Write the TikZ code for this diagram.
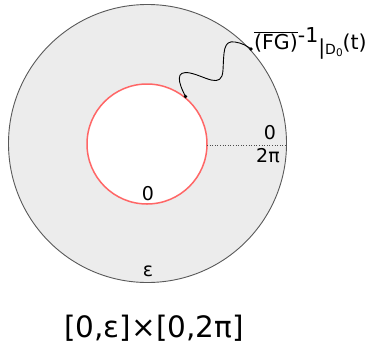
\documentclass[tikz,border=0pt]{standalone}
\usepackage{fontspec}
\setmainfont{DejaVu Sans}
\begin{document}
\begin{tikzpicture}[x=1pt,y=-1pt,
  lbl/.style={font=\fontsize{19}{21}\selectfont, inner sep=0pt},
  dotpt/.style={circle, fill=black, inner sep=0pt, minimum size=3.6pt}]
\useasboundingbox (0,0) rectangle (369,354);
\coordinate (c) at (147.5,143.5);
\fill[gray!15!white, draw=black!65, line width=0.9pt] (c) circle[radius=139pt];
\fill[white, draw=red!60!white, line width=1.5pt] (147,144) circle[radius=60pt];
\coordinate (d1) at (207,145);
\coordinate (d2) at (286.5,145);
\draw[dotted, line width=0.6pt, black!70] (d1) -- (d2);
\node[lbl] (z1) at (270,133) {0};
\node[lbl] (tp) at (268,156) {2π};
\node[lbl] (z2) at (148,194) {0};
\node[lbl] (ep) at (148,271) {ε};
\node[dotpt] (p) at (185.5,96.5) {};
\node[dotpt] (q) at (251,49) {};
\draw[line width=0.9pt] (p.center) .. controls (178,82) and (175,70) .. (190,73)
  .. controls (205,76) and (222,90) .. (223,70)
  .. controls (224,52) and (223,40) .. (235,42)
  .. controls (242,43) and (247,46) .. (q.center);
\node[font=\fontsize{20.5}{22}\selectfont, inner sep=0pt, anchor=base west] (fg) at (254,49) {$\overline{\hbox{(FG)}}$\raisebox{0.55ex}{-1}\raisebox{-0.45ex}{|\fontsize{14}{15}\selectfont D\raisebox{-0.35ex}{\fontsize{10.5}{11}\selectfont 0}}(t)};
\node[font=\fontsize{29.5}{32}\selectfont, inner sep=0pt] (dom) at (154,328) {[0,ε]×[0,2π]};
\end{tikzpicture}
\end{document}
